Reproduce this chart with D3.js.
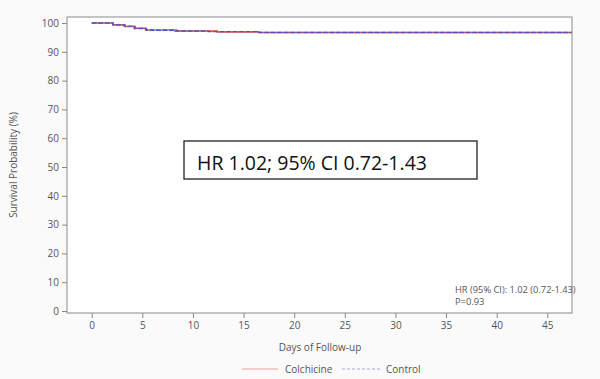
<!DOCTYPE html>
<html><head><meta charset="utf-8">
<script src="https://cdn.jsdelivr.net/npm/d3@7"></script>
<style>body{margin:0;background:#fafafa;}svg{display:block;}</style>
</head><body>
<svg id="c" width="600" height="379"></svg>
<script>
const xTicks = [0,5,10,15,20,25,30,35,40,45];
const yTicks = [0,10,20,30,40,50,60,70,80,90,100];
const colchicineDays = [0,2.1,3.3,4.3,5.3,8.4,12.4,16.6,47.4];
const colchicineSurv = [100,99.4,98.8,98.2,97.6,97.2,96.9,96.7,96.7];
const controlDays = [0,2.1,3.2,4.2,5.4,8.2,11.5,16.3,47.4];
const controlSurv = [100,99.3,98.9,98.1,97.5,97.2,97.0,96.7,96.7];
const seriesNames = ["Colchicine","Control"];

const svg = d3.select("#c");
const frame = {l:67, r:572, t:17, b:313};
const x = d3.scaleLinear().domain([0,45]).range([91.7,547.3]);
const y = d3.scaleLinear().domain([0,100]).range([311,23]);

svg.append("rect").attr("x",frame.l).attr("y",frame.t).attr("width",frame.r-frame.l).attr("height",frame.b-frame.t)
  .attr("fill","#fff").attr("stroke","#8a8a8a").attr("stroke-width",1);

const font = "'Open Sans', sans-serif";
const ya = svg.append("g").attr("transform",`translate(${frame.l},0)`)
  .call(d3.axisLeft(y).tickValues(yTicks).tickSize(5).tickPadding(3));
const xa = svg.append("g").attr("transform",`translate(0,${frame.b})`)
  .call(d3.axisBottom(x).tickValues(xTicks).tickSize(5).tickPadding(4));
[ya,xa].forEach(a=>{
  a.select(".domain").remove();
  a.selectAll("line").attr("stroke","#8a8a8a");
  a.selectAll("text").attr("fill","#555").style("font-family",font).style("font-size","10px");
});

const line = d3.line().curve(d3.curveStepAfter).x(d=>x(d[0])).y(d=>y(d[1]));
const colData = colchicineDays.map((d,i)=>[d,colchicineSurv[i]]);
const ctlData = controlDays.map((d,i)=>[d,controlSurv[i]]);
svg.append("path").attr("d",line(colData)).attr("fill","none").attr("stroke","#e0504a").attr("stroke-width",1.4);
svg.append("path").attr("d",line(ctlData)).attr("fill","none").attr("stroke","#5050c8").attr("stroke-width",1.4).attr("stroke-dasharray","5,1.5");

svg.append("text").attr("transform","translate(17,165) rotate(-90)").attr("text-anchor","middle")
  .style("font-family",font).style("font-size","10px").attr("fill","#555").text("Survival Probability (%)");
svg.append("text").attr("x",320).attr("y",351).attr("text-anchor","middle")
  .style("font-family",font).style("font-size","10px").attr("fill","#555").text("Days of Follow-up");

// HR box
svg.append("rect").attr("x",184).attr("y",141).attr("width",293).attr("height",38)
  .attr("fill","#fff").attr("stroke","#222").attr("stroke-width",1.3);
svg.append("text").attr("x",197).attr("y",169.5).style("font-family",font).style("font-size","19.5px").attr("fill","#111")
  .text("HR 1.02; 95% CI 0.72-1.43");

svg.append("text").attr("x",455).attr("y",293).style("font-family",font).style("font-size","9.3px").attr("fill","#555")
  .text("HR (95% CI): 1.02 (0.72-1.43)");
svg.append("text").attr("x",455).attr("y",305).style("font-family",font).style("font-size","9.3px").attr("fill","#555")
  .text("P=0.93");

// legend
const leg = [{x1:242,x2:278,tx:285,c:"#f0a0a0",dash:null},{x1:342,x2:380,tx:386,c:"#a8a8e0",dash:"3,2"}];
leg.forEach((l,i)=>{
  svg.append("line").attr("x1",l.x1).attr("x2",l.x2).attr("y1",369).attr("y2",369).attr("stroke",l.c).attr("stroke-width",1.2)
    .attr("stroke-dasharray",l.dash);
  svg.append("text").attr("x",l.tx).attr("y",373).style("font-family",font).style("font-size","10px").attr("fill","#555")
    .text(seriesNames[i]);
});
</script>
</body></html>
